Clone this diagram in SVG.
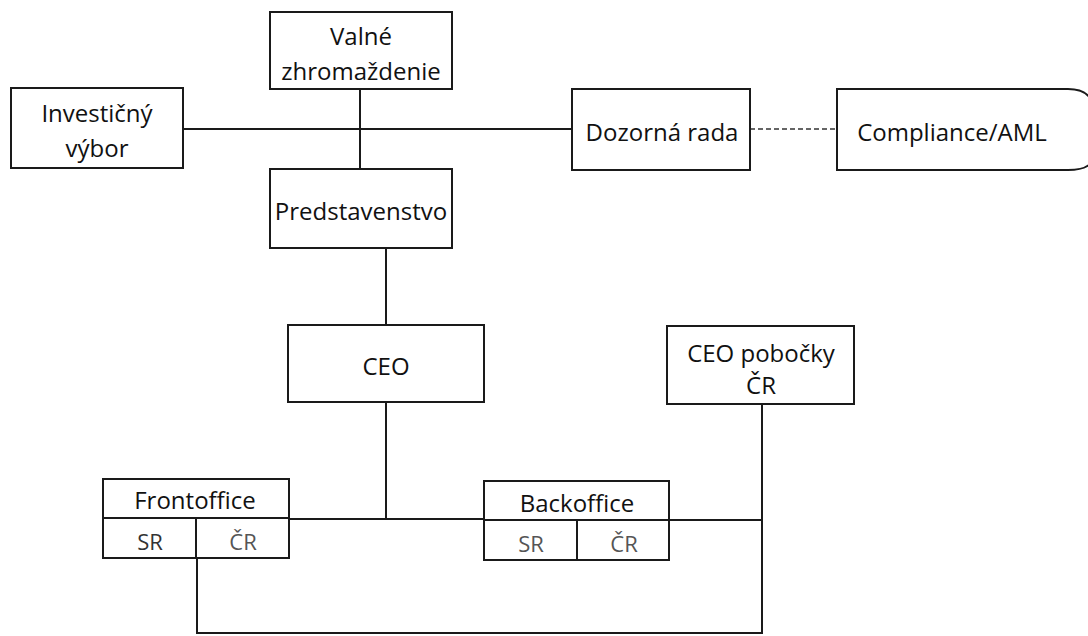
<svg xmlns="http://www.w3.org/2000/svg" width="1088" height="636" viewBox="0 0 1088 636">
<style>
.box{fill:#fff;stroke:#1a1a1a;stroke-width:2}
.ln{fill:none;stroke:#1a1a1a;stroke-width:2}
.dash{fill:none;stroke:#333;stroke-width:1.6;stroke-dasharray:5,3}
text{font-family:"Open Sans",Lato,"Liberation Sans",sans-serif;font-size:24px;fill:#111;text-anchor:middle}
.sm{font-size:22px;fill:#333}
.gr{fill:#555}
</style>
<rect width="1088" height="636" fill="#fff"/>
<g id="connectors">
<line class="ln" x1="183" y1="129" x2="572" y2="129"/>
<line class="ln" x1="360" y1="89" x2="360" y2="169"/>
<line class="ln" x1="386" y1="248" x2="386" y2="325"/>
<line class="ln" x1="386" y1="402" x2="386" y2="519"/>
<line class="ln" x1="289" y1="519" x2="484" y2="519"/>
<line class="ln" x1="669" y1="520" x2="762" y2="520"/>
<line class="ln" x1="762" y1="404" x2="762" y2="633"/>
<polyline class="ln" points="197,558 197,633 763,633"/>
<line class="dash" x1="750" y1="129" x2="837" y2="129"/>
</g>
<g id="valne">
<rect class="box" x="270" y="12" width="182" height="77"/>
<text x="361" y="45">Valné</text>
<text x="361" y="80">zhromaždenie</text>
</g>
<g id="investicny">
<rect class="box" x="11" y="88" width="172" height="80"/>
<text x="97" y="122">Investičný</text>
<text x="97" y="157">výbor</text>
</g>
<g id="predstavenstvo">
<rect class="box" x="270" y="169" width="182" height="79"/>
<text x="361" y="220">Predstavenstvo</text>
</g>
<g id="dozorna">
<rect class="box" x="572" y="89" width="178" height="81"/>
<text x="662" y="141">Dozorná rada</text>
</g>
<g id="compliance">
<path class="box" d="M1090,98 Q1084,89 1068,89 L837,89 L837,170 L1068,170 Q1084,170 1090,164"/>
<text x="952" y="141">Compliance/AML</text>
</g>
<g id="ceo">
<rect class="box" x="288" y="325" width="196" height="77"/>
<text x="386" y="375">CEO</text>
</g>
<g id="ceo-pobocky">
<rect class="box" x="667" y="326" width="187" height="78"/>
<text x="761" y="362">CEO pobočky</text>
<text x="761" y="394">ČR</text>
</g>
<g id="frontoffice">
<rect class="box" x="103" y="479" width="186" height="79"/>
<line class="ln" x1="103" y1="518" x2="289" y2="518"/>
<line class="ln" x1="196" y1="518" x2="196" y2="558"/>
<text x="195" y="509">Frontoffice</text>
<text class="sm" x="150" y="550">SR</text>
<text class="sm gr" x="243" y="550">ČR</text>
</g>
<g id="backoffice">
<rect class="box" x="484" y="481" width="185" height="79"/>
<line class="ln" x1="484" y1="520" x2="669" y2="520"/>
<line class="ln" x1="577" y1="520" x2="577" y2="560"/>
<text x="577" y="512">Backoffice</text>
<text class="sm gr" x="531" y="552">SR</text>
<text class="sm gr" x="624" y="552">ČR</text>
</g>
</svg>
